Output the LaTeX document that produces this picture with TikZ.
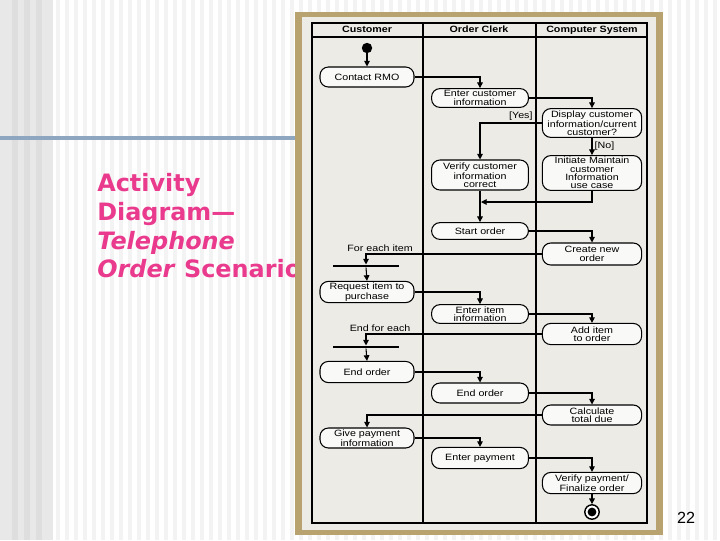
\documentclass[tikz,border=0pt]{standalone}
\usepackage{fontspec}
\setmainfont{Liberation Sans}
\newfontfamily\diafont[FakeStretch=1.17]{Liberation Sans}
\newfontfamily\titlefont{DejaVu Sans}
\usetikzlibrary{arrows.meta}

\definecolor{titlepink}{RGB}{234,58,141}
\definecolor{ruleblue}{RGB}{142,166,192}
\definecolor{frametan}{RGB}{184,162,112}
\definecolor{panelgray}{RGB}{236,235,230}
\definecolor{nodefill}{RGB}{249,249,247}
\definecolor{stripedark}{RGB}{222,222,222}
\definecolor{stripemid}{RGB}{232,232,232}
\definecolor{stripelight}{RGB}{243,243,243}

\tikzset{
  activity/.style={draw, rectangle, rounded corners=6pt, fill=nodefill, line width=0.75pt,
    inner sep=1pt, align=center, font=\diafont\fontsize{6.5}{6}\selectfont},
  custact/.style={activity, minimum width=2.35cm},
  clerkact/.style={activity, minimum width=2.42cm},
  compact/.style={activity, minimum width=2.48cm},
  flow/.style={-{Triangle[length=4pt,width=4pt]}, line width=0.75pt},
  syncbar/.style={fill=black, minimum width=1.65cm, minimum height=1.8pt, inner sep=0pt},
  lanehead/.style={anchor=base, font=\diafont\bfseries\fontsize{6.5}{7}\selectfont},
  guard/.style={font=\diafont\fontsize{6.5}{7}\selectfont, inner sep=1.5pt},
  slidetitle/.style={anchor=base west, inner sep=0pt, text=titlepink,
    font=\titlefont\bfseries\fontsize{17}{20}\selectfont},
}

\begin{document}
\begin{tikzpicture}[x=0.025cm, y=-0.025cm]
  \useasboundingbox (0,0) rectangle (720,540);
  % slide background
  \fill[white] (0,0) rectangle (720,540);
  \fill[stripemid] (0,0) rectangle (53,540);
  \foreach \x in {12,24,36} \fill[stripedark] (\x,0) rectangle +(6,540);
  \foreach \x in {56,65,...,720} \fill[stripelight] (\x,0) rectangle +(4,540);
  \fill[ruleblue] (0,136) rectangle (295,140);

  \node[slidetitle] (title1) at (97,191) {Activity};
  \node[slidetitle] (title2) at (97,220) {Diagram—};
  \node[slidetitle] (title3) at (97,249) {\itshape Telephone};
  \node[slidetitle] (title4) at (97,277) {\textit{Order} Scenario};

  \node[anchor=base, font=\fontsize{11.5}{12}\selectfont] (pagenum) at (686,523) {22};

  % framed picture
  \fill[frametan] (295,12) rectangle (663,535);
  \fill[panelgray] (302,17) rectangle (656,530);
  \draw[line width=0.75pt] (312,23) rectangle (647,523);
  \draw[line width=0.75pt] (312,37) -- (647,37);
  \draw[line width=0.75pt] (423,23) -- (423,523);
  \draw[line width=0.75pt] (536,23) -- (536,523);
  \node[lanehead] (custhead) at (367,32.5) {Customer};
  \node[lanehead] (clerkhead) at (479,32.5) {Order Clerk};
  \node[lanehead] (comphead) at (592,32.5) {Computer System};

  \node[circle, fill=black, minimum size=0.26cm, inner sep=0pt] (start) at (367,48) {};
  \node[custact, minimum height=0.5cm] (contact) at (367,77) {Contact RMO};
  \node[clerkact, minimum height=0.47cm] (entercust) at (480,98) {Enter customer\\information};
  \node[compact, minimum height=0.72cm] (display) at (592,123) {Display customer\\information/current\\customer?};
  \node[clerkact, minimum height=0.75cm] (verifycust) at (480,175) {Verify customer\\information\\correct};
  \node[compact, minimum height=0.85cm] (initiate) at (592,173) {Initiate Maintain\\customer\\Information\\use case};
  \node[clerkact, minimum height=0.42cm] (startorder) at (480,231) {Start order};
  \node[compact, minimum height=0.55cm] (createorder) at (592,254) {Create new\\order};
  \node[syncbar] (forkbar) at (366,266) {};
  \node[custact, minimum height=0.53cm] (request) at (367,292) {Request item to\\purchase};
  \node[clerkact, minimum height=0.47cm] (enteritem) at (480,314) {Enter item\\information};
  \node[compact, minimum height=0.53cm] (additem) at (592,334) {Add item\\to order};
  \node[syncbar] (joinbar) at (366,347) {};
  \node[custact, minimum height=0.53cm] (endcust) at (367,372) {End order};
  \node[clerkact, minimum height=0.5cm] (endclerk) at (480,393) {End order};
  \node[compact, minimum height=0.5cm] (calctotal) at (592,415) {Calculate\\total due};
  \node[custact, minimum height=0.5cm] (givepay) at (367,438) {Give payment\\information};
  \node[clerkact, minimum height=0.53cm] (enterpay) at (480,458) {Enter payment};
  \node[compact, minimum height=0.53cm] (verifypay) at (592,483) {Verify payment/\\Finalize order};
  \node[circle, draw, line width=1pt, fill=white, minimum size=0.36cm, inner sep=0pt] (finish) at (592,512) {};
  \fill (finish.center) circle (0.11cm);

  \coordinate (merge) at (481,202);

  \draw[flow] (start) -- (contact);
  \draw[flow] (contact.east) -| (entercust.north);
  \draw[flow] (entercust.east) -| (display.north);
  \draw[flow] (display.west) -| node[pos=0.17, above, guard] {[Yes]} (verifycust.north);
  \draw[flow] (display.south) -- node[right, guard] {[No]} (initiate.north);
  \draw[flow] (initiate.south) |- (merge);
  \draw[flow] (verifycust.south) -- (startorder.north);
  \draw[flow] (startorder.east) -| (createorder.north);
  \draw[flow] (createorder.west) -| node[pos=0.46, above, guard] {For each item} (forkbar.north);
  \draw[flow] (forkbar.south) -- (request.north);
  \draw[flow] (request.east) -| (enteritem.north);
  \draw[flow] (enteritem.east) -| (additem.north);
  \draw[flow] (additem.west) -| node[pos=0.46, above, guard] {End for each} (joinbar.north);
  \draw[flow] (joinbar.south) -- (endcust.north);
  \draw[flow] (endcust.east) -| (endclerk.north);
  \draw[flow] (endclerk.east) -| (calctotal.north);
  \draw[flow] (calctotal.west) -| (givepay.north);
  \draw[flow] (givepay.east) -| (enterpay.north);
  \draw[flow] (enterpay.east) -| (verifypay.north);
  \draw[flow] (verifypay.south) -- (finish.north);
\end{tikzpicture}
\end{document}
